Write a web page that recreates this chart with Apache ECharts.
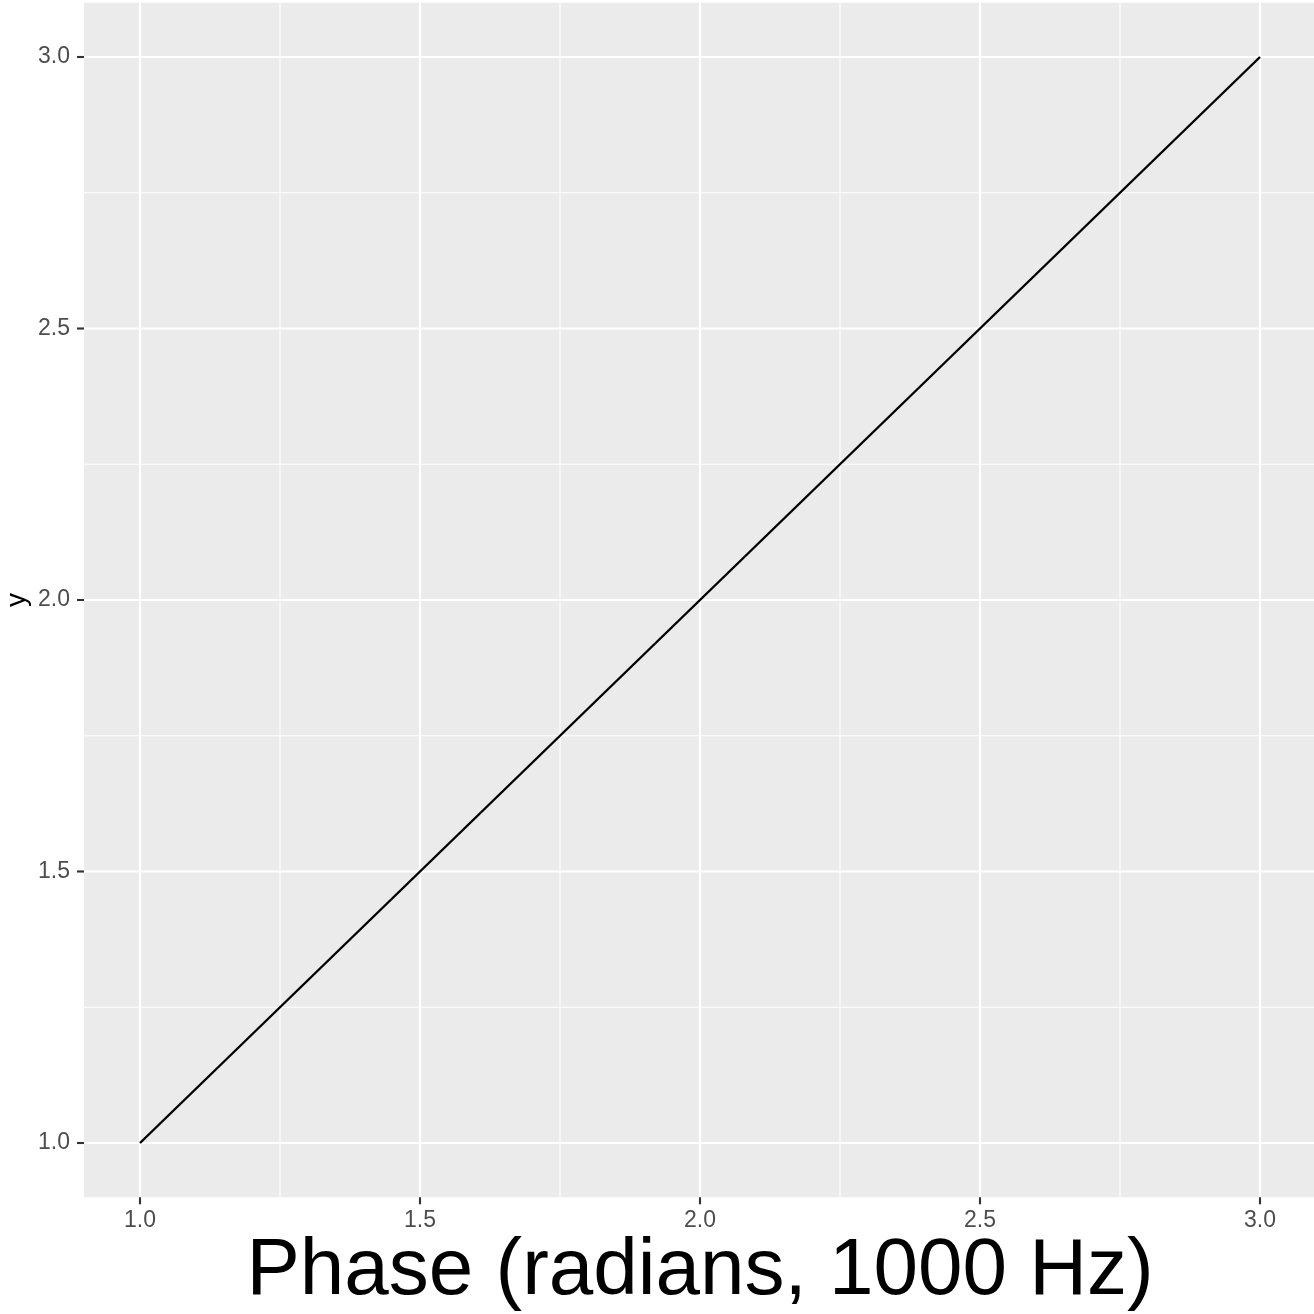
<!DOCTYPE html>
<html>
<head>
<meta charset="utf-8">
<script src="https://cdn.jsdelivr.net/npm/echarts@6/dist/echarts.min.js"></script>
<style>
html,body{margin:0;padding:0;background:#fff;}
#chart{width:1314px;height:1314px;}
</style>
</head>
<body>
<div id="chart"></div>
<script>
// ---- data ----
var xValues = [1.0, 3.0];
var yValues = [1.0, 3.0];
var xMajorTicks = [1.0, 1.5, 2.0, 2.5, 3.0];
var xMinorTicks = [1.25, 1.75, 2.25, 2.75];
var yMajorTicks = [1.0, 1.5, 2.0, 2.5, 3.0];
var yMinorTicks = [1.25, 1.75, 2.25, 2.75];
var xTickLabels = ['1.0', '1.5', '2.0', '2.5', '3.0'];
var yTickLabels = ['1.0', '1.5', '2.0', '2.5', '3.0'];
var xRange = [0.9, 3.1];
var yRange = [0.9, 3.1];
var xTitle = 'Phase (radians, 1000 Hz)';
var yTitle = 'y';

var FONT = 'Liberation Sans, Arial, Helvetica, sans-serif';

var chart = echarts.init(document.getElementById('chart'), null, {renderer: 'canvas'});

function vGrid(width, withTicks) {
  return function (params, api) {
    var v = api.value(0);
    var top = api.coord([v, yRange[1]]);
    var bot = api.coord([v, yRange[0]]);
    var children = [{
      type: 'line',
      shape: {x1: top[0], y1: top[1], x2: bot[0], y2: bot[1]},
      style: {stroke: '#FFFFFF', lineWidth: width}
    }];
    if (withTicks) {
      children.push({
        type: 'line',
        shape: {x1: bot[0], y1: bot[1], x2: bot[0], y2: bot[1] + 7},
        style: {stroke: '#333333', lineWidth: 2.1}
      });
      children.push({
        type: 'text',
        x: bot[0], y: bot[1] + 23,
        style: {text: xTickLabels[params.dataIndex], fill: '#4D4D4D', font: '23px ' + FONT,
                align: 'center', verticalAlign: 'middle'}
      });
    }
    return {type: 'group', children: children};
  };
}
function hGrid(width, withTicks) {
  return function (params, api) {
    var v = api.value(1);
    var left = api.coord([xRange[0], v]);
    var right = api.coord([xRange[1], v]);
    var children = [{
      type: 'line',
      shape: {x1: left[0], y1: left[1], x2: right[0], y2: right[1]},
      style: {stroke: '#FFFFFF', lineWidth: width}
    }];
    if (withTicks) {
      children.push({
        type: 'line',
        shape: {x1: left[0] - 7, y1: left[1], x2: left[0], y2: left[1]},
        style: {stroke: '#333333', lineWidth: 2.1}
      });
      children.push({
        type: 'text',
        x: left[0] - 14, y: left[1],
        style: {text: yTickLabels[params.dataIndex], fill: '#4D4D4D', font: '23px ' + FONT,
                align: 'right', verticalAlign: 'middle'}
      });
    }
    return {type: 'group', children: children};
  };
}

var option = {
  animation: false,
  backgroundColor: '#FFFFFF',
  grid: {
    left: 84, top: 2.7, width: 1232, height: 1194.6,
    outerBoundsMode: 'none', containLabel: false,
    show: true, backgroundColor: '#EBEBEB', borderWidth: 0
  },
  xAxis: {
    type: 'value', min: xRange[0], max: xRange[1],
    axisLine: {show: false}, axisTick: {show: false},
    axisLabel: {show: false}, splitLine: {show: false}
  },
  yAxis: {
    type: 'value', min: yRange[0], max: yRange[1],
    axisLine: {show: false}, axisTick: {show: false},
    axisLabel: {show: false}, splitLine: {show: false}
  },
  graphic: [
    {
      type: 'text', x: 700, y: 1272,
      style: {text: xTitle, fill: '#000000', font: '80px ' + FONT, align: 'center', verticalAlign: 'middle'}
    },
    {
      type: 'text', x: 17, y: 600, rotation: Math.PI / 2,
      style: {text: yTitle, fill: '#000000', font: '28px ' + FONT, align: 'center', verticalAlign: 'middle'}
    }
  ],
  series: [
    {type: 'custom', clip: false, z: 1, silent: true,
     data: xMinorTicks.map(function (v) { return [v, yRange[0]]; }), renderItem: vGrid(1.1, false)},
    {type: 'custom', clip: false, z: 1, silent: true,
     data: yMinorTicks.map(function (v) { return [xRange[0], v]; }), renderItem: hGrid(1.1, false)},
    {type: 'custom', clip: false, z: 2, silent: true,
     data: xMajorTicks.map(function (v) { return [v, yRange[0]]; }), renderItem: vGrid(2.2, true)},
    {type: 'custom', clip: false, z: 2, silent: true,
     data: yMajorTicks.map(function (v) { return [xRange[0], v]; }), renderItem: hGrid(2.2, true)},
    {type: 'line', z: 5, showSymbol: false, silent: true,
     data: xValues.map(function (x, i) { return [x, yValues[i]]; }),
     lineStyle: {color: '#000000', width: 2.4}}
  ]
};
chart.setOption(option);
</script>
</body>
</html>
